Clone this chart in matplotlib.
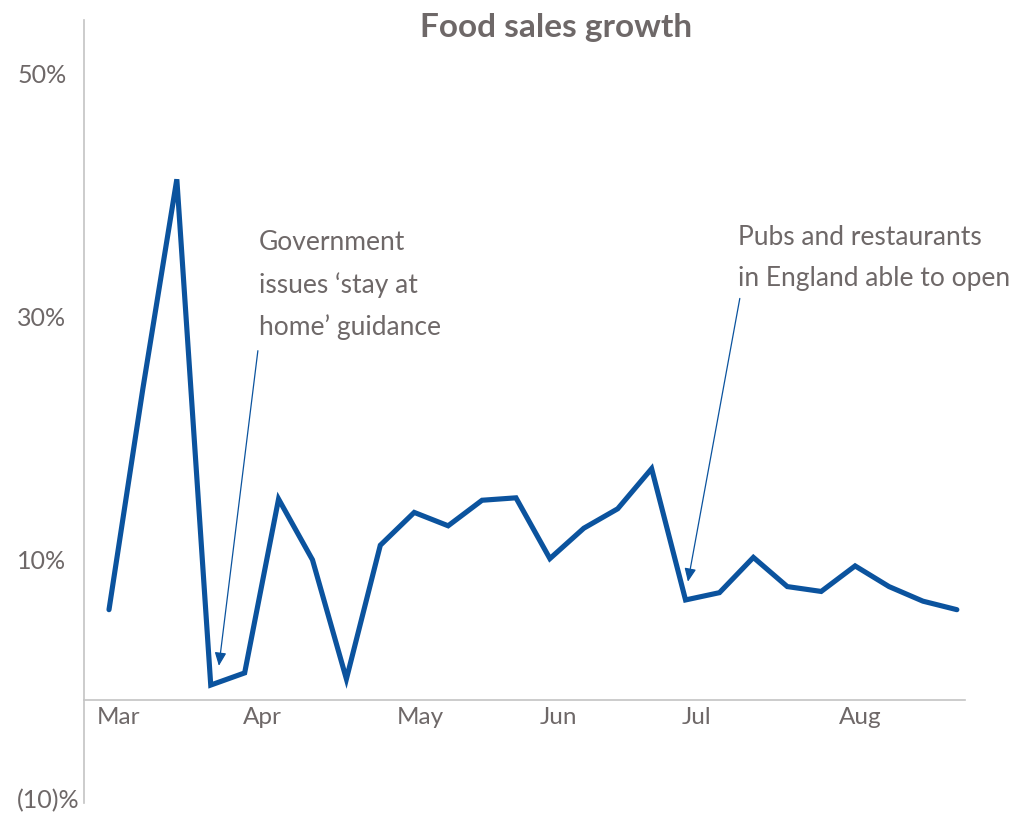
import matplotlib
matplotlib.use("Agg")
import matplotlib.pyplot as plt
import matplotlib.transforms as mtransforms

plt.rcParams['font.family'] = ['Lato', 'DejaVu Sans']

# Weekly food sales growth (%)
weeks = list(range(26))
growth = [5.9, 24.1, 41.3, -0.3, 0.7, 15.0, 10.0, 0.2, 11.2, 13.9, 12.8, 14.9, 15.1,
          10.1, 12.6, 14.2, 17.5, 6.7, 7.3, 10.2, 7.8, 7.4, 9.5, 7.8, 6.6, 5.9]

month_labels = ['Mar', 'Apr', 'May', 'Jun', 'Jul', 'Aug']
month_pos = [0.27, 4.51, 9.17, 13.24, 17.33, 22.14]

ytick_vals = [50, 30, 10, -10]
ytick_labels = ['50%', '30%', '10%', '(10)%']

ann1_text = "Government\nissues \u2018stay at\nhome\u2019 guidance"
ann2_text = "Pubs and restaurants\nin England able to open"

grey = '#6e6868'
blue = '#0b539e'
axis_grey = '#c4c4c4'

fig = plt.figure(figsize=(10.11, 8.14), dpi=100)
ax = fig.add_axes([84/1011, 1 - 803/814, (965-84)/1011, (803-20)/814])

ax.plot(weeks, growth, color=blue, lw=3.7, solid_joinstyle='miter', solid_capstyle='round')

ax.set_xlim(-0.737, 25.24)
ax.set_ylim(-10, 54.4)

for s in ['top', 'right']:
    ax.spines[s].set_visible(False)
ax.spines['bottom'].set_position(('data', -1.5))
for s in ['bottom', 'left']:
    ax.spines[s].set_color(axis_grey)
    ax.spines[s].set_linewidth(1.2)

ax.set_xticks(month_pos)
ax.set_xticklabels(month_labels, fontsize=17.5, color=grey)
ax.tick_params(axis='x', length=0, pad=5)

ax.set_yticks(ytick_vals)
ax.set_yticklabels(ytick_labels, fontsize=18, color=grey, ha='left')
ax.tick_params(axis='y', length=0, pad=48)
# nudge the bottom label up slightly so it stays inside the figure
lbl = ax.get_yticklabels()[-1]
lbl.set_transform(lbl.get_transform() + mtransforms.ScaledTranslation(0, 3/72, fig.dpi_scale_trans))

ax.text(4.42, 37.1, ann1_text, fontsize=19, color=grey, va='top', ha='left', linespacing=1.79)
ax.text(18.54, 37.5, ann2_text, fontsize=19, color=grey, va='top', ha='left', linespacing=1.79)

arrowprops = dict(arrowstyle='-|>,head_length=0.8,head_width=0.35', color=blue, lw=0.9,
                  shrinkA=0, shrinkB=0)
ax.annotate('', xy=(3.24, 1.28), xytext=(4.39, 27.2), arrowprops=arrowprops)
ax.annotate('', xy=(17.07, 8.2), xytext=(18.6, 31.5), arrowprops=arrowprops)

fig.text(556/1011, 1 - 27/814, 'Food sales growth', fontsize=24, fontweight='bold',
         color=grey, ha='center', va='center')

fig.savefig('out.png', dpi=100)
